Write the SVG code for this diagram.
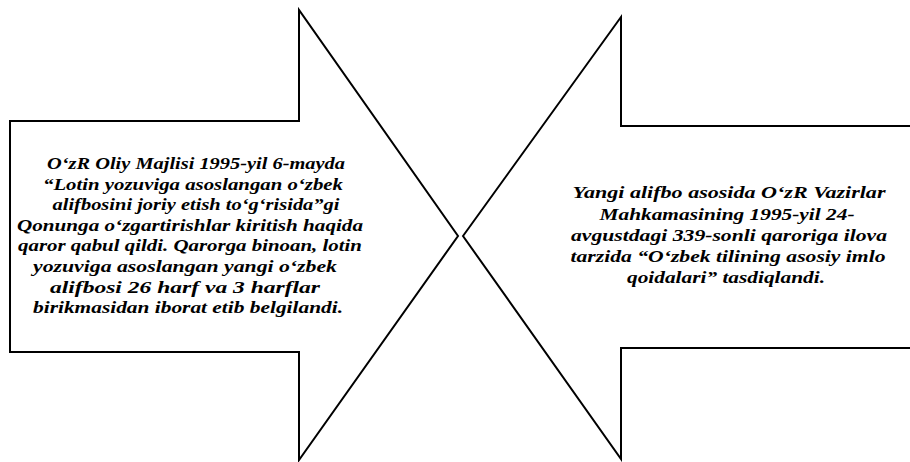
<svg xmlns="http://www.w3.org/2000/svg" width="910" height="462" viewBox="0 0 910 462">
<style>
.shape{fill:#fff;stroke:#000;stroke-width:2;stroke-linejoin:miter}
.t{font-family:'Liberation Serif','DejaVu Serif',serif;font-style:italic;font-weight:700;font-size:17.5px;fill:#000;text-anchor:middle}
</style>
<rect width="910" height="462" fill="#fff"/>
<g id="arrow-left">
<polygon class="shape" points="10,121 299,121 299,10 458,236 299,460 299,352 10,352"/>
<text class="t" x="196" y="169" textLength="298" lengthAdjust="spacingAndGlyphs">O‘zR Oliy Majlisi 1995-yil 6-mayda</text>
<text class="t" x="193" y="190" textLength="300" lengthAdjust="spacingAndGlyphs">“Lotin yozuviga asoslangan o‘zbek</text>
<text class="t" x="196" y="210" textLength="287" lengthAdjust="spacingAndGlyphs">alifbosini joriy etish to‘g‘risida”gi</text>
<text class="t" x="190" y="231" textLength="346" lengthAdjust="spacingAndGlyphs">Qonunga o‘zgartirishlar kiritish haqida</text>
<text class="t" x="190" y="251" textLength="344" lengthAdjust="spacingAndGlyphs">qaror qabul qildi. Qarorga binoan, lotin</text>
<text class="t" x="185" y="272" textLength="304" lengthAdjust="spacingAndGlyphs">yozuviga asoslangan yangi o‘zbek</text>
<text class="t" x="185" y="293" textLength="270" lengthAdjust="spacingAndGlyphs">alifbosi 26 harf va 3 harflar</text>
<text class="t" x="188" y="313" textLength="310" lengthAdjust="spacingAndGlyphs">birikmasidan iborat etib belgilandi.</text>
</g>
<g id="arrow-right">
<polygon class="shape" points="463,236 621,17 621,126 912,126 912,348 621,348 621,459"/>
<text class="t" x="729" y="198" textLength="313" lengthAdjust="spacingAndGlyphs">Yangi alifbo  asosida O‘zR Vazirlar</text>
<text class="t" x="727" y="220" textLength="255" lengthAdjust="spacingAndGlyphs">Mahkamasining 1995-yil 24-</text>
<text class="t" x="729" y="241" textLength="316" lengthAdjust="spacingAndGlyphs">avgustdagi 339-sonli qaroriga ilova</text>
<text class="t" x="728" y="262" textLength="315" lengthAdjust="spacingAndGlyphs">tarzida “O‘zbek tilining asosiy imlo</text>
<text class="t" x="726" y="283" textLength="198" lengthAdjust="spacingAndGlyphs">qoidalari” tasdiqlandi.</text>
</g>
<g id="connectors"></g>
</svg>
